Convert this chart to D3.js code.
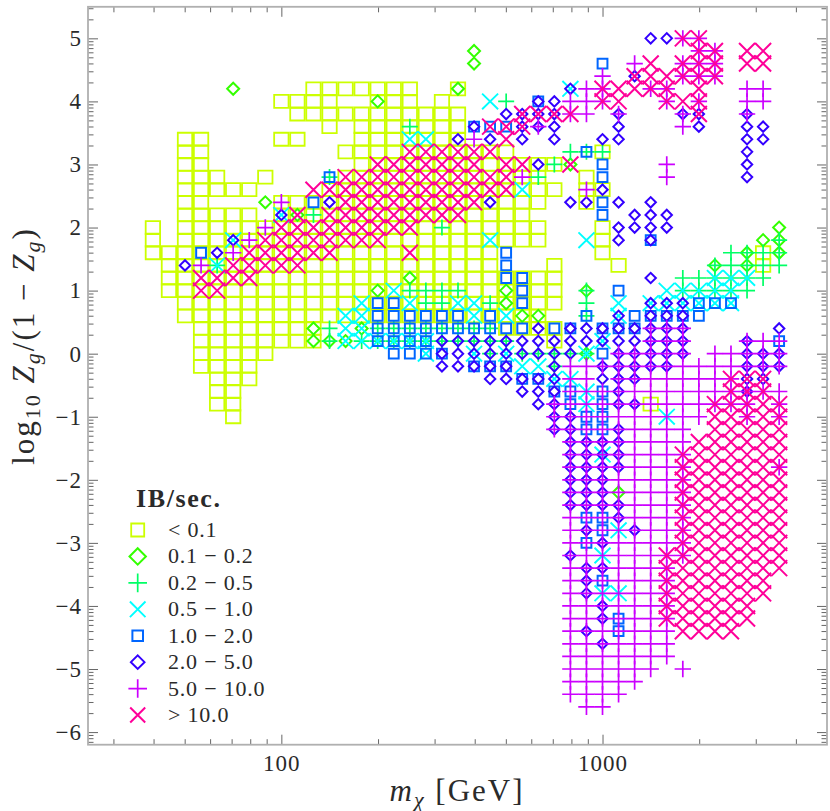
<!DOCTYPE html>
<html><head><meta charset="utf-8">
<style>html,body{margin:0;padding:0;background:#fff}svg{display:block}</style>
<script src="https://d3js.org/d3.v7.min.js"></script></head>
<body><svg id="c" width="830" height="811"></svg>
<script>
// Bins: each row is [y index (log10 Zg/(1-Zg) = index*0.2), mass bins...]; mass bin c means log10 m = c*0.05; [a,b] = consecutive bins a..b
const binLt01 = [[21,[42,48],51],[20,[40,43],[46,48],50],[19,[41,51]],[18,43,[45,51]],[17,34,35,40,41,[45,51]],[16,34,35,[44,54],60],[15,34,35,[45,57]],[14,[34,36],39,[44,56],59],[13,[34,38],[43,57],59,60],[12,34,35,[40,56],59],[11,[34,38],[40,55]],[10,32,[34,56],60],[9,32,[34,56],60],[8,[32,53],60,70],[7,[33,53],57,61,70],[6,[33,57]],[5,[33,57]],[4,[34,57]],[3,[34,56]],[2,[35,42],[54,57]],[1,[35,42],57],[0,[35,39]],[-1,[35,38]],[-2,[36,38]],[-3,36,37],[-4,36,37,63],[-5,37]];
const bin01to02 = [[24,52],[23,52],[21,37,51],[20,46],[15,58],[12,39],[11,41],[10,71],[9,70,71],[8,69,71],[7,67,69],[6,48],[5,46,54,59],[4,54],[3,55,56],[2,42,45],[1,42,43,44],[0,59],[-11,61]];
const bin02to05 = [[20,54],[18,48],[16,58,59,60],[15,57],[14,43,56],[11,42],[10,50],[9,71],[8,68,69,70,71],[7,36,[67,71]],[6,[65,70]],[5,[48,51],59,[65,69]],[4,49,50,53,59],[3,59],[2,43,[46,53]],[1,43,45,[46,54]],[0,53,[55,59]],[-1,57]];
const bin05to10 = [[21,58],[20,53],[17,48,49],[13,55],[11,40],[9,37,53,59],[7,36],[6,67,68,69],[5,47,[64,68]],[4,45,48,51,52,61,[63,68]],[3,44,45,52,54,61],[2,44,45],[1,[44,49],60],[0,49,52,54,59],[-1,55,56],[-2,57,58],[-3,59],[-4,59],[-5,64],[-8,60],[-14,61],[-16,60],[-19,60,61]];
const bin10to20 = [[23,60],[20,56],[18,52,53,54],[16,59],[15,60],[14,43,60],[12,42,60],[11,60],[9,63],[8,35,54],[7,54],[6,54,55],[5,55,61],[4,46,47,55,66,67,68],[3,[46,51],53,59,62,[63,66]],[2,[46,55],57,58,60,61,62],[1,[46,49],71],[0,[47,50],60],[-1,52,53,54],[-2,55,56],[-3,57,58,60],[-4,58,60],[-5,59,60],[-6,59,60],[-13,59,60],[-14,60],[-15,59],[-18,60],[-21,61],[-22,61]];
const bin20to50 = [[25,63,64],[22,62],[21,58],[20,56,57],[19,[54,57],61,65,66,69],[18,52,[55,57],61,66,69,70],[17,51,53,55,57,60,61,69,70],[16,69],[15,56,69],[14,69],[13,60],[12,43,53,58,59,61,63],[11,40,62,63,64],[10,[61,64]],[9,37,61,63],[8,36],[7,34],[6,63],[4,63,64,65],[3,61,63,64,65],[2,56,[58,65],71],[1,[50,65],69],[0,[50,58],[61,65],69,70,71],[-1,[50,54],57,[60,64],69,70,71],[-2,[53,57],60,61,62,69,70],[-3,55,56,57,61,69],[-4,56,57,61,62],[-5,57,58],[-6,57,58,61],[-7,[58,61]],[-8,[58,61]],[-9,[58,61]],[-10,58,59,60],[-11,58,59,60],[-12,[58,61]],[-13,61],[-14,59,62],[-15,60],[-16,58],[-17,59,60],[-18,59],[-19,59],[-20,60],[-21,60],[-22,59],[-23,60]];
const bin50to100 = [[25,65,66],[24,66,67],[23,62,65,66,67],[22,60,65,66,67],[21,59,60,63,64,69,70],[20,58,59,60,64,66,69,70],[19,58,59,61,65,69],[18,56,65],[17,52],[15,64],[14,55,64],[13,59],[12,40],[10,39],[9,38],[8,37],[7,35],[2,63,64,65],[1,63,64,65,69,70,71],[0,[61,65],[67,71]],[-1,[58,71]],[-2,58,59,[61,68]],[-3,[58,71]],[-4,[57,69],71],[-5,[57,66],69,71],[-6,[57,65]],[-7,[58,65]],[-8,[58,65]],[-9,[58,65],71],[-10,[58,65]],[-11,[58,65]],[-12,[58,65]],[-13,[58,65]],[-14,[58,65]],[-15,[58,65]],[-16,[58,65]],[-17,[58,64]],[-18,[58,64]],[-19,[58,64]],[-20,[58,64]],[-21,[58,64]],[-22,[58,64]],[-23,[58,64]],[-24,[58,64]],[-25,[58,63],65],[-26,[58,62]],[-27,[58,61]],[-28,59,60]];
const binGt10 = [[25,65,66],[24,66,67,69,70],[23,63,65,66,67,69,70],[22,[62,67]],[21,[60,64],66],[20,60,61,64,65,66],[19,[55,58],66],[18,53,54,55],[17,54],[16,[48,53]],[15,[46,52],54,55,58],[14,[44,54]],[13,[42,54]],[12,[44,52]],[11,41,[43,51]],[10,[40,48]],[9,[39,46]],[8,[38,43],48],[7,[37,41]],[6,[35,38]],[5,35,36],[-2,68,69,70],[-3,68,69,70],[-4,[67,71]],[-5,[67,71]],[-6,[67,71]],[-7,[66,71]],[-8,[65,71]],[-9,[65,71]],[-10,[65,71]],[-11,[65,71]],[-12,[65,71]],[-13,[65,71]],[-14,[65,71]],[-15,[65,71]],[-16,[64,71]],[-17,[64,71]],[-18,[64,70]],[-19,[64,70]],[-20,[64,69]],[-21,[64,69]],[-22,[65,68]]];

const legendLabels = ["< 0.1","0.1 − 0.2","0.2 − 0.5","0.5 − 1.0","1.0 − 2.0","2.0 − 5.0","5.0 − 10.0","> 10.0"];
const seriesBins = [binLt01,bin01to02,bin02to05,bin05to10,bin10to20,bin20to50,bin50to100,binGt10];
const seriesColors = ["#ccff00","#33ff00","#00ff66","#00ffff","#0066ff","#3300ff","#cc00ff","#ff0099"];
const xMajorTicks = [100,1000];
const xMinorTicks = [30,40,50,60,70,80,90,200,300,400,500,600,700,800,900,2000,3000,4000];
const yMajorTicks = [-6,-5,-4,-3,-2,-1,0,1,2,3,4,5];

// marker styles: shape, half width, half height, stroke; legend half size
const styles = [
 {s:"rect",w:7.2,h:6.5,sw:1.8,lw:6.5,lh:6.5},
 {s:"dia",w:6,h:6,sw:2,lw:8.2,lh:8.2},
 {s:"plus",w:8,h:8,sw:1.7,lw:9.3,lh:9.3},
 {s:"x",w:8,h:7.8,sw:1.9,lw:7.8,lh:7.8},
 {s:"rect",w:4.9,h:4.9,sw:2,lw:5.3,lh:5.3},
 {s:"dia",w:5.2,h:5.2,sw:2,lw:6.8,lh:6.8},
 {s:"plus",w:8.2,h:8.2,sw:1.7,lw:9.3,lh:9.3},
 {s:"x",w:8,h:8,sw:2,lw:7.5,lh:7.5}
];
function shape(s,w,h){
  const p=d3.path();
  if(s==="rect"){p.rect(-w,-h,2*w,2*h);}
  else if(s==="dia"){p.moveTo(-w,0);p.lineTo(0,-h);p.lineTo(w,0);p.lineTo(0,h);p.closePath();}
  else if(s==="plus"){p.moveTo(-w,0);p.lineTo(w,0);p.moveTo(0,-h);p.lineTo(0,h);}
  else {p.moveTo(-w,-h);p.lineTo(w,h);p.moveTo(-w,h);p.lineTo(w,-h);}
  return p.toString();
}
function expand(rows){
  const out=[];
  rows.forEach(([r,...cs])=>cs.forEach(c=>{
    if(Array.isArray(c)){d3.range(c[0],c[1]+1).forEach(k=>out.push({r,c:k}));}
    else out.push({r,c});
  }));
  return out;
}

const L=88,R=827,T=6.8,B=744.7;
const x=d3.scaleLog().domain([25,5000]).range([L,R]);
const y=d3.scaleLinear().domain([-6.2,5.5]).range([B,T]);
const svg=d3.select("#c");
const SERIF="'Liberation Serif',serif", INK="#2a2a2a";

// markers
svg.append("defs").append("clipPath").attr("id","plot").append("rect").attr("x",L).attr("y",T).attr("width",R-L).attr("height",B-T);
const plot=svg.append("g").attr("clip-path","url(#plot)");
seriesBins.forEach((rows,i)=>{
  const st=styles[i];
  plot.append("g").selectAll("path").data(expand(rows)).join("path")
   .attr("transform",d=>`translate(${x(Math.pow(10,d.c*0.05))},${y(d.r*0.2)})`)
   .attr("d",shape(st.s,st.w,st.h))
   .attr("fill","none").attr("stroke",seriesColors[i]).attr("stroke-width",st.sw);
});

// axes
const yMinorTicks=[];
d3.range(-7,6).forEach(n=>d3.range(2,10).forEach(k=>{const v=n+Math.log10(k);if(v>-6.2&&v<5.5)yMinorTicks.push(v);}));
function styleAxis(g){g.select(".domain").remove();g.selectAll("line").attr("stroke","#555").attr("stroke-width",0.9);
  g.selectAll("text").attr("font-family",SERIF).attr("font-size",23).attr("letter-spacing",1).attr("fill",INK);}
const MAJ=10,MIN=5.5;
svg.append("g").attr("transform",`translate(0,${B})`).call(d3.axisBottom(x).tickValues(xMajorTicks).tickSizeInner(-MAJ).tickSizeOuter(0).tickPadding(10).tickFormat(d3.format("d"))).call(styleAxis);
svg.append("g").attr("transform",`translate(0,${B})`).call(d3.axisBottom(x).tickValues(xMinorTicks).tickSizeInner(-MIN).tickSizeOuter(0).tickFormat("")).call(styleAxis);
svg.append("g").attr("transform",`translate(0,${T})`).call(d3.axisTop(x).tickValues(xMajorTicks).tickSizeInner(-MAJ).tickSizeOuter(0).tickFormat("")).call(styleAxis);
svg.append("g").attr("transform",`translate(0,${T})`).call(d3.axisTop(x).tickValues(xMinorTicks).tickSizeInner(-MIN).tickSizeOuter(0).tickFormat("")).call(styleAxis);
svg.append("g").attr("transform",`translate(${L},0)`).call(d3.axisLeft(y).tickValues(yMajorTicks).tickSizeInner(-MAJ).tickSizeOuter(0).tickPadding(6).tickFormat(d=>String(d).replace("-","−"))).call(styleAxis);
svg.append("g").attr("transform",`translate(${L},0)`).call(d3.axisLeft(y).tickValues(yMinorTicks).tickSizeInner(-MIN).tickSizeOuter(0).tickFormat("")).call(styleAxis);
svg.append("g").attr("transform",`translate(${R},0)`).call(d3.axisRight(y).tickValues(yMajorTicks).tickSizeInner(-MAJ).tickSizeOuter(0).tickFormat("")).call(styleAxis);
svg.append("g").attr("transform",`translate(${R},0)`).call(d3.axisRight(y).tickValues(yMinorTicks).tickSizeInner(-MIN).tickSizeOuter(0).tickFormat("")).call(styleAxis);
svg.append("rect").attr("x",L).attr("y",T).attr("width",R-L).attr("height",B-T).attr("fill","none").attr("stroke","#b0b0b0").attr("stroke-width",1.8);

// axis titles
const xt=svg.append("text").attr("x",457).attr("y",801).attr("text-anchor","middle").attr("font-family",SERIF).attr("font-size",31).attr("letter-spacing",2).attr("fill",INK);
xt.append("tspan").attr("font-style","italic").text("m");
xt.append("tspan").attr("font-style","italic").attr("font-size",22).attr("dy",6).text("χ");
xt.append("tspan").attr("dy",-6).text(" [GeV]");
const yt=svg.append("text").attr("transform","translate(34,346) rotate(-90)").attr("text-anchor","middle").attr("font-family",SERIF).attr("font-size",31).attr("letter-spacing",2).attr("fill",INK);
yt.append("tspan").text("log");
yt.append("tspan").attr("font-size",22).attr("dy",6).text("10");
yt.append("tspan").attr("dy",-6).attr("font-style","italic").text(" Z");
yt.append("tspan").attr("font-style","italic").attr("font-size",22).attr("dy",6).text("g");
yt.append("tspan").attr("dy",-6).text("/(1 − ");
yt.append("tspan").attr("font-style","italic").text("Z");
yt.append("tspan").attr("font-style","italic").attr("font-size",22).attr("dy",6).text("g");
yt.append("tspan").attr("dy",-6).text(")");

// legend
svg.append("text").attr("x",136).attr("y",507).attr("font-family",SERIF).attr("font-weight","bold").attr("font-size",26).attr("letter-spacing",1.6).attr("fill",INK).text("IB/sec.");
const ly=d3.scalePoint().domain(d3.range(8)).range([530,715]);
const lg=svg.append("g").selectAll("g").data(legendLabels).join("g").attr("transform",(d,i)=>`translate(0,${ly(i)})`);
lg.append("path").attr("transform","translate(137.7,0)").attr("d",(d,i)=>shape(styles[i].s,styles[i].lw,styles[i].lh))
  .attr("fill","none").attr("stroke",(d,i)=>seriesColors[i]).attr("stroke-width",(d,i)=>styles[i].sw);
lg.append("text").attr("x",168).attr("y",7).attr("font-family",SERIF).attr("font-size",22).attr("letter-spacing",0.8).attr("fill",INK).text(d=>d);
</script></body></html>
